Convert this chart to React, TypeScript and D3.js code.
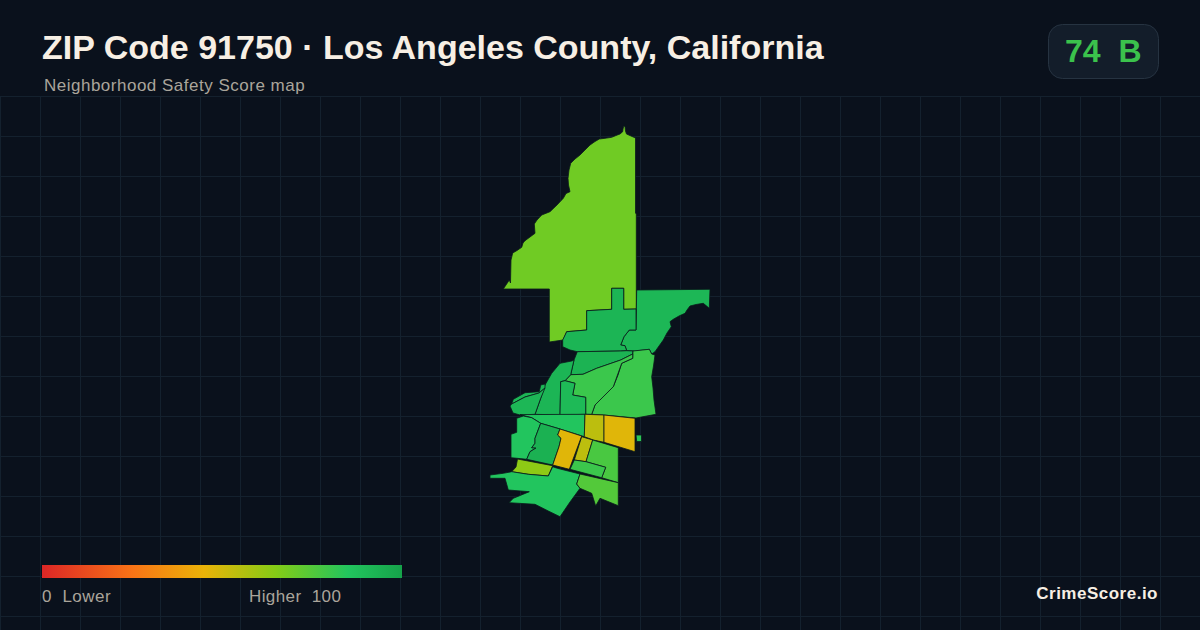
import React from "react";
import * as d3 from "d3";

const WIDTH = 1200;
const HEIGHT = 630;

const TITLE = "ZIP Code 91750 · Los Angeles County, California";
const SUBTITLE = "Neighborhood Safety Score map";
const BADGE = "74  B";
const BRAND = "CrimeScore.io";
const LEGEND_LOW = "0  Lower";
const LEGEND_HIGH = "Higher  100";

const legendStops = [0, 0.25, 0.45, 0.65, 0.85, 1];
const legendColors = ["#dc2626", "#f97316", "#eab308", "#84cc16", "#22c55e", "#16a34a"];

type Pt = [number, number];

const northForest: Pt[] = [[623,129],[623.8,126],[625,126.5],[625.5,131],[626.5,134],[635.5,138],[635.5,213],[636.3,214],[636.3,309],[623.7,309.3],[623.7,288.3],[611.7,288.3],[611.7,309.3],[599,310],[586.7,310.7],[586.7,330],[566.7,331.7],[563,340],[549.3,342],[549.3,289],[503.3,289],[509.3,280],[510.5,283],[511,260],[512.7,253],[517,250.5],[521.7,247.3],[523,243],[525,240.7],[530,237],[535,233.3],[534.3,224],[537,220],[541.7,215],[550,211.7],[557,205],[563.3,198.3],[566,193.5],[570,191.7],[568.5,185],[568,178.3],[569,170],[570.7,163.3],[575,159],[580,155],[585,150],[590,145],[595,141.5],[599.3,139],[605,138.3],[611.7,137.3],[616,135.5],[620,134],[622.7,131.7]];
const northEast: Pt[] = [[636.7,290],[710,289.3],[709.3,308.3],[703.3,303.3],[696,304.5],[690,306],[687,310],[685,313.3],[679,316],[673.3,319.3],[670,321.7],[671.3,326.7],[667,333],[663.3,340],[659,346],[655,351.7],[651.7,354],[649.3,349.3],[635,351],[626.7,350.7],[625,345.7],[620.7,345],[624,336.7],[629.3,330],[636,330]];
const northMiddle: Pt[] = [[636,309],[636,330],[629.3,330],[624,336.7],[620.7,345],[625,345.7],[626.7,350.7],[620.7,351],[577.3,351.7],[570,350],[562.7,346.7],[562.7,340],[566.7,331.7],[586.7,330],[586.7,310.7],[599,310],[611.7,309.3],[611.7,288.3],[623.7,288.3],[623.7,309.3]];
const centerNorth: Pt[] = [[577.3,351.7],[620.7,351],[626.7,350.7],[633,351],[632.7,354],[620.7,360],[596.7,368.3],[583,374.3],[570.7,374.7],[574,360]];
const eastLarge: Pt[] = [[633,351],[649.3,349.3],[651.7,354],[655,355],[653.5,366],[651.7,376.7],[653,388],[654,400],[656,414.3],[636,418],[603.3,415],[591.7,414.3],[595,405],[604,396],[613.3,386.7],[618,375],[621.7,363.3],[632.7,358.3]];
const centerLight: Pt[] = [[570.7,374.7],[583,374.3],[596.7,368.3],[620.7,360],[632.7,354],[632.7,358.3],[621.7,363.3],[613.3,386.7],[595,405],[591.7,414.3],[585.7,414.3],[585.7,397.3],[572.7,395],[575,383.3],[565,380.7]];
const westMiddle: Pt[] = [[574,360],[570.7,374.7],[565,380.7],[560.7,381.7],[560,415],[535,414.3],[540.7,398.3],[545,385],[551.7,373.3],[560,363.3],[571.7,361]];
const centerSmall: Pt[] = [[560.7,381.7],[565,380.7],[575,383.3],[572.7,395],[585.7,397.3],[585.7,414.3],[560,415]];
const northWestUpper: Pt[] = [[511.7,404],[513.3,399.3],[525,392.7],[539.3,391.7],[540.7,385],[545,384],[545,388],[539,393],[525,397]];
const northWestLower: Pt[] = [[511.7,404],[525,397],[539,393],[545,388],[540.7,398.3],[535,414.3],[520,415],[513,413],[510,406]];
const topStrip: Pt[] = [[520,414.6],[585,414.3],[584.3,436.7],[560,429],[540.7,423.3],[531.7,417.7]];
const westBlock: Pt[] = [[516.7,418.3],[523.3,416],[531.7,417.7],[540.7,423.3],[535,438.3],[535,443.3],[531.7,447.7],[536,448],[530,451.7],[526.7,459.3],[517.3,458.3],[511,457.7],[511,434.3],[516.7,432.3]];
const innerDark: Pt[] = [[540.7,423.3],[560,429],[557.7,435],[561,438.3],[559,446.7],[552.7,465],[526.7,459.3],[530,451.7],[536,448],[531.7,447.7],[535,443.3],[535,438.3]];
const yellowNorth: Pt[] = [[585,414.3],[604,415],[604,442.3],[593.3,440],[584.3,436.7]];
const amberEast: Pt[] = [[604,415],[635,418.3],[635,451.7],[604,442.3]];
const eastFragment: Pt[] = [[636,435],[641.5,435],[641.5,441.5],[636.7,441.5]];
const amberCenter: Pt[] = [[560,429],[581.7,436],[569.3,469.3],[552.7,465],[559,446.7],[561,438.3],[557.7,435]];
const yellowCenter: Pt[] = [[581.7,436.7],[592.7,440],[586,461.7],[574.3,460]];
const eastBlock: Pt[] = [[592.7,440],[618.3,447.7],[618.3,482.7],[601.7,477.7],[605.7,467.3],[586,461.7]];
const midStrip: Pt[] = [[574.3,460],[586,461.7],[605.7,467.3],[601.7,477.7],[570,469.3]];
const limeStrip: Pt[] = [[517.5,459],[552.7,465.7],[548.3,476],[528.3,474.3],[511.7,471.7],[516,467]];
const southBig: Pt[] = [[490,475],[503.3,473.3],[511.7,471.7],[528.3,474.3],[548.3,476],[552.7,466.7],[557.3,468.3],[580,474],[576.7,484],[580,488.3],[570,502],[560,516.7],[548.3,511],[535,504.3],[509,502.7],[513.3,498.3],[529.3,491.7],[508.3,490],[505,478.3],[490,478.3]];
const southEast: Pt[] = [[580,474],[618.3,482.7],[618.3,505.7],[600,498.3],[595.7,506],[591.7,493.3],[580,488.3],[576.7,484]];

const neighborhoods: { ring: Pt[]; score: number }[] = [
  { ring: northForest, score: 69 },
  { ring: northEast, score: 91 },
  { ring: northMiddle, score: 92 },
  { ring: centerNorth, score: 93 },
  { ring: eastLarge, score: 80 },
  { ring: centerLight, score: 80 },
  { ring: westMiddle, score: 92 },
  { ring: centerSmall, score: 90 },
  { ring: northWestUpper, score: 91 },
  { ring: northWestLower, score: 91 },
  { ring: topStrip, score: 85 },
  { ring: westBlock, score: 85 },
  { ring: innerDark, score: 94 },
  { ring: yellowNorth, score: 54 },
  { ring: amberEast, score: 47 },
  { ring: eastFragment, score: 83 },
  { ring: amberCenter, score: 47 },
  { ring: yellowCenter, score: 54 },
  { ring: eastBlock, score: 77 },
  { ring: midStrip, score: 80 },
  { ring: limeStrip, score: 63 },
  { ring: southBig, score: 85 },
  { ring: southEast, score: 75 },
];

const colorScale = d3
  .scaleLinear<string>()
  .domain(legendStops.map((s) => s * 100))
  .range(legendColors)
  .interpolate(d3.interpolateRgb);

const gridX = d3.range(0, WIDTH + 1, 40);
const gridY = d3.range(96, HEIGHT + 1, 40);

const path = d3.geoPath(d3.geoIdentity());

const FONT = "'Liberation Sans', Arial, sans-serif";

export default function App() {
  return (
    <svg
      width={WIDTH}
      height={HEIGHT}
      viewBox={`0 0 ${WIDTH} ${HEIGHT}`}
      style={{ position: "fixed", left: 0, top: 0, display: "block" }}
      fontFamily={FONT}
    >
      <defs>
        <linearGradient id="legend" x1="0" x2="1" y1="0" y2="0">
          {legendStops.map((s, i) => (
            <stop key={s} offset={s} stopColor={legendColors[i]} />
          ))}
        </linearGradient>
      </defs>
      <rect width={WIDTH} height={HEIGHT} fill="#0a111c" />
      <g stroke="#14212e" strokeWidth={1}>
        {gridX.map((x) => (
          <line key={x} x1={x + 0.5} x2={x + 0.5} y1={96} y2={HEIGHT} />
        ))}
        {gridY.map((y) => (
          <line key={y} x1={0} x2={WIDTH} y1={y + 0.5} y2={y + 0.5} />
        ))}
      </g>

      <g stroke="#0a1a1c" strokeWidth={0.8} strokeLinejoin="round">
        {neighborhoods.map((n, i) => (
          <path
            key={i}
            d={path({ type: "Polygon", coordinates: [[...n.ring, n.ring[0]]] } as any) ?? ""}
            fill={colorScale(n.score)}
          />
        ))}
      </g>

      <text x={42} y={59} fontSize={34} fontWeight={700} fill="#f7efe4">
        {TITLE}
      </text>
      <text x={44} y={91} fontSize={17} fill="#aaa59b" letterSpacing={0.5}>
        {SUBTITLE}
      </text>

      <rect x={1048.5} y={24.5} width={110} height={54} rx={14} fill="#131d2a" stroke="#263341" />
      <text x={1065} y={62} fontSize={32} fontWeight={700} fill="#3bc24c" style={{ whiteSpace: "pre" }}>
        {BADGE}
      </text>

      <rect x={42} y={565} width={360} height={13} fill="url(#legend)" />
      <text x={42} y={602} fontSize={17} fill="#aaa59b" letterSpacing={0.5} style={{ whiteSpace: "pre" }}>
        {LEGEND_LOW}
      </text>
      <text x={249} y={602} fontSize={17} fill="#aaa59b" letterSpacing={0.4} style={{ whiteSpace: "pre" }}>
        {LEGEND_HIGH}
      </text>

      <text x={1158} y={599} fontSize={17} fontWeight={700} fill="#f7efe4" textAnchor="end" letterSpacing={0.5}>
        {BRAND}
      </text>
    </svg>
  );
}
